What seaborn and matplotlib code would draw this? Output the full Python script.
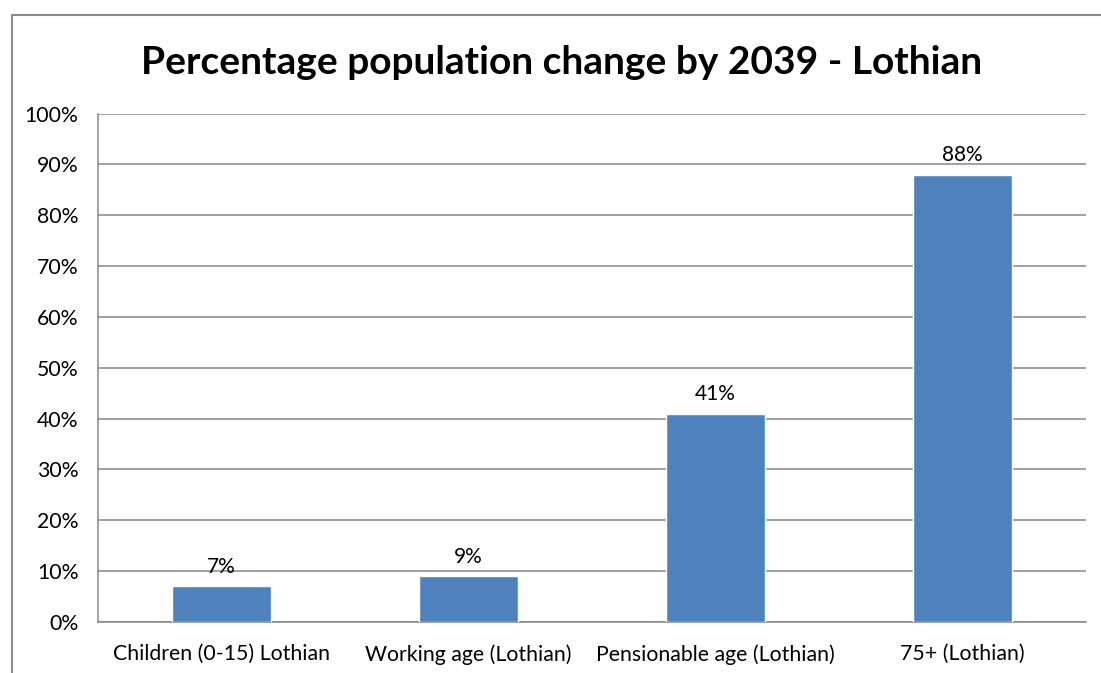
import matplotlib
matplotlib.use("Agg")
import matplotlib.pyplot as plt
from matplotlib.lines import Line2D
from matplotlib.ticker import FuncFormatter
import seaborn as sns
import pandas as pd

categories = ["Children (0-15) Lothian", "Working age (Lothian)",
              "Pensionable age (Lothian)", "75+ (Lothian)"]
change_pct = [7, 9, 41, 88]
y_ticks = [0, 10, 20, 30, 40, 50, 60, 70, 80, 90, 100]

sns.set_theme(style="white")
plt.rcParams["font.family"] = ["Lato", "DejaVu Sans"]

df = pd.DataFrame({"group": categories, "pct": change_pct})

fig = plt.figure(figsize=(11.01, 6.73), dpi=100)
ax = fig.add_axes([98 / 1101, 1 - 622 / 673, (1086 - 98) / 1101, (622 - 113.5) / 673])

sns.barplot(data=df, x="group", y="pct", color="#4F81BD", width=0.4,
            saturation=1, ax=ax, zorder=3)

ax.set_ylim(0, 100)
ax.set_yticks(y_ticks)
ax.yaxis.set_major_formatter(FuncFormatter(lambda v, _: f"{v:.0f}%"))
ax.grid(axis="y", color="#868686", linewidth=1.1, zorder=0)
ax.set_axisbelow(True)
ax.set_xlabel("")
ax.set_ylabel("")

for side in ("top", "right"):
    ax.spines[side].set_visible(False)
for side in ("left", "bottom"):
    ax.spines[side].set_color("#868686")
    ax.spines[side].set_linewidth(1.1)

ax.tick_params(axis="both", length=0, labelsize=15.3, colors="black")
ax.tick_params(axis="y", pad=14)
ax.tick_params(axis="x", pad=16)

for patch, val in zip(ax.patches, change_pct):
    ax.annotate(f"{val}%", (patch.get_x() + patch.get_width() / 2, patch.get_height()),
                xytext=(0, 7), textcoords="offset points", ha="center", va="bottom",
                fontsize=15, color="black")

fig.text(562 / 1101, 1 - 63 / 673, "Percentage population change by 2039 - Lothian",
         ha="center", va="center", fontsize=28, fontweight="bold", color="black")

# chart-area frame, open at the right and bottom edges
x0, y0 = 11.5 / 1101, 1 - 15 / 673
fig.add_artist(Line2D([x0, 1.0], [y0, y0], transform=fig.transFigure, color="#8c8c8c", linewidth=1.5))
fig.add_artist(Line2D([x0, x0], [0.0, y0], transform=fig.transFigure, color="#8c8c8c", linewidth=1.5))

fig.savefig("out.png", dpi=100, facecolor="white")
